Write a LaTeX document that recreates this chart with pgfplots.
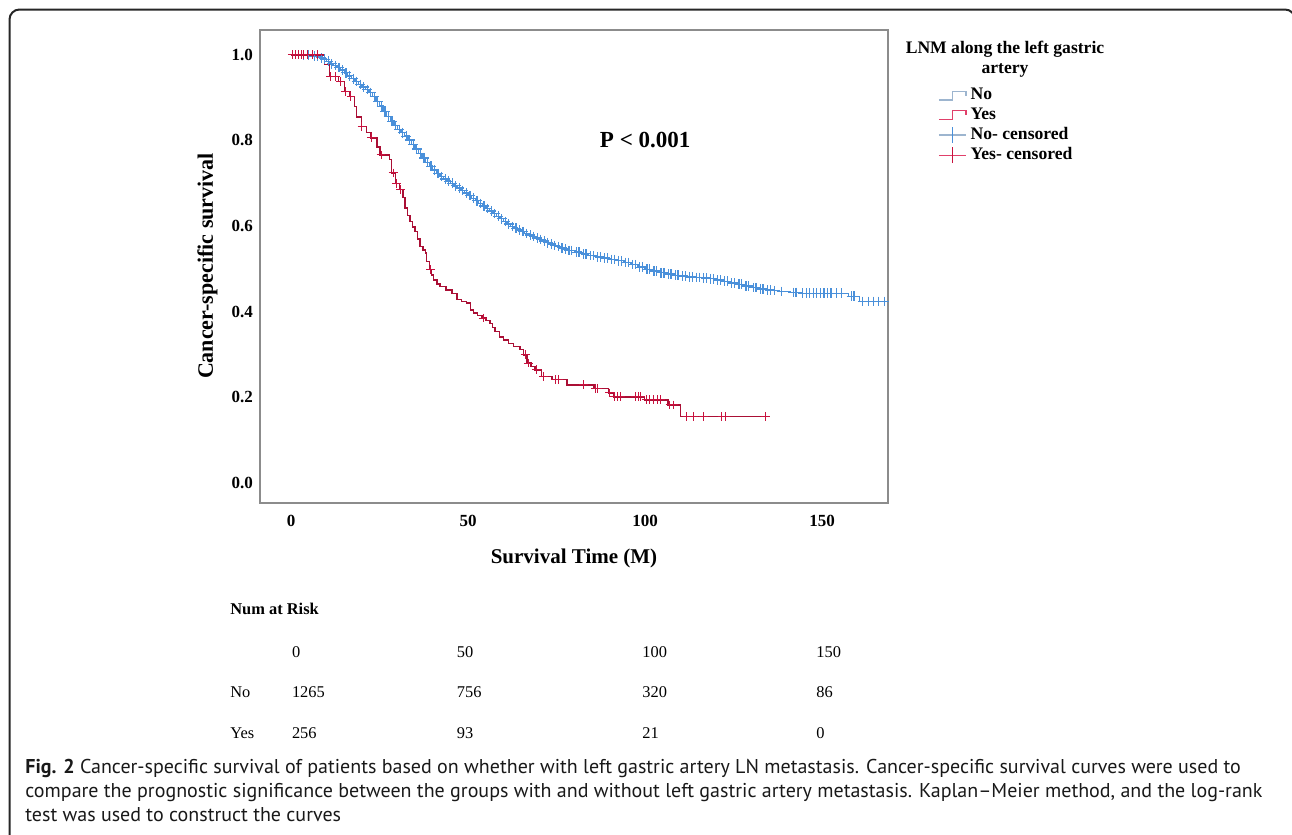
\documentclass[border=0pt]{standalone}
\usepackage{fontspec}
\setmainfont{Liberation Serif}
\newfontfamily\capfont{PT Sans}
\usepackage{graphicx}
\usepackage{pgfplots}
\pgfplotsset{compat=1.18}
\definecolor{kmblue}{HTML}{4A90DA}
\definecolor{kmred}{HTML}{C8123E}
\definecolor{legblue}{HTML}{9DB5CF}
\definecolor{legred}{HTML}{E0406A}
\definecolor{axgray}{HTML}{8C8C8C}

\begin{document}
\begin{tikzpicture}
\useasboundingbox (0,0) rectangle (646pt,-417.5pt);
% outer frame, bottom is cut off
\draw[line width=1pt, black!85, rounded corners=5pt]
  (4.75pt,-425pt) -- (4.75pt,-4.75pt) -- (647.5pt,-4.75pt) -- (647.5pt,-425pt);

\begin{axis}[
  at={(130pt,-251.5pt)}, anchor=south west,
  scale only axis, width=314pt, height=236.5pt,
  xmin=-8.8, xmax=168.6, ymin=-0.047, ymax=1.058,
  xtick={0,50,100,150},
  ytick={0,0.2,0.4,0.6,0.8,1.0},
  yticklabel style={/pgf/number format/.cd, fixed, fixed zerofill, precision=1},
  /pgf/number format/assume math mode=true,
  tick label style={font=\bfseries\fontsize{8.5}{10}\selectfont},
  xticklabel style={yshift=-2.5pt},
  major tick length=0pt,
  axis line style={draw=axgray, line width=0.6pt},
  xlabel={Survival Time (M)},
  xlabel style={font=\bfseries\fontsize{10.5}{12}\selectfont,
    at={(axis description cs:0.5,-0.1163)}, anchor=center},
  ylabel={Cancer-specific survival},
  ylabel style={font=\bfseries\fontsize{11}{12}\selectfont,
    at={(axis description cs:-0.0836,0.501)}, anchor=center},
  legend style={at={(axis description cs:1.0796,0.886)}, anchor=north west,
    draw=none, fill=none, inner sep=0pt, row sep=-1.5pt,
    font=\bfseries\fontsize{8.8}{10}\selectfont},
  legend cell align=left,
]
% No, step curve
\addplot[const plot, kmblue, line width=0.7pt,
  legend image code/.code={\draw[legblue, line width=0.6pt]
    (0pt,-2.2pt) -- (6.8pt,-2.2pt) -- (6.8pt,2.2pt) -- (13.5pt,2.2pt) -- (13.5pt,0pt);}]
coordinates {
(0,1.000)(7,0.996)(8,0.993)(9,0.990)(10,0.985)(11,0.979)(12,0.975)(13,0.970)
(14,0.965)(15,0.958)(16,0.951)(17,0.944)(18,0.938)(19,0.931)(20,0.925)
(21,0.919)(22,0.912)(23,0.902)(24,0.891)(25,0.880)(26,0.868)(27,0.856)
(28,0.845)(29,0.835)(30,0.826)(31,0.818)(32,0.810)(33,0.801)(34,0.791)
(35,0.780)(36,0.770)(37,0.759)(38,0.749)(39,0.740)(40,0.731)(41,0.723)
(42,0.716)(43,0.710)(44,0.705)(45,0.700)(46,0.694)(47,0.689)(48,0.683)
(49,0.677)(50,0.671)(51,0.665)(52,0.659)(53,0.653)(54,0.647)(55,0.641)
(56,0.635)(57,0.629)(58,0.623)(59,0.617)(60,0.611)(61,0.605)(62,0.599)
(63,0.595)(64,0.591)(65,0.587)(66,0.583)(67,0.579)(68,0.576)(69,0.572)
(70,0.569)(71,0.565)(72,0.561)(73,0.558)(74,0.555)(75,0.552)(76,0.549)
(77,0.546)(78,0.543)(80,0.539)(82,0.535)(84,0.531)(86,0.528)(88,0.525)
(90,0.522)(92,0.519)(94,0.515)(96,0.510)(98,0.504)(100,0.499)(102,0.495)
(104,0.491)(106,0.488)(108,0.485)(110,0.483)(112,0.481)(114,0.480)
(116,0.479)(118,0.477)(120,0.474)(122,0.471)(124,0.467)(126,0.464)
(128,0.460)(130,0.456)(132,0.453)(134,0.451)(136,0.449)(138,0.447)
(141,0.445)(144,0.443)(157.5,0.436)(160.5,0.424)(168.6,0.424)
};
\addlegendentry{No}
% Yes, step curve
\addplot[const plot, kmred!85!black, line width=0.7pt,
  legend image code/.code={\draw[legred, line width=0.6pt]
    (0pt,-2.2pt) -- (6.8pt,-2.2pt) -- (6.8pt,2.2pt) -- (13.5pt,2.2pt) -- (13.5pt,0pt);}]
coordinates {
(0,1.000)(9.5,0.977)(10.8,0.949)(13.3,0.937)(15,0.914)(16.6,0.902)
(17.9,0.879)(18.4,0.855)(19.8,0.832)(21.2,0.819)(22.5,0.806)(24.3,0.785)
(25.1,0.766)(27.8,0.755)(28.4,0.724)(29.4,0.700)(30.6,0.685)(31.6,0.666)
(32.2,0.642)(32.9,0.625)(33.6,0.611)(34.3,0.598)(35,0.587)(35.7,0.570)
(36.4,0.552)(37.2,0.544)(37.9,0.537)(38.3,0.517)(39.1,0.498)(39.7,0.486)
(40.2,0.474)(41.2,0.465)(42.1,0.459)(43.7,0.451)(45.4,0.443)(46.8,0.428)
(48.2,0.424)(49.6,0.420)(50.6,0.404)(51.5,0.397)(52.7,0.391)(53.9,0.385)
(55,0.379)(56.2,0.373)(56.9,0.363)(57.6,0.354)(58.8,0.341)(60,0.334)
(61.4,0.326)(62.8,0.318)(64.7,0.311)(65.6,0.299)(66.6,0.280)(67.8,0.272)
(68.9,0.264)(70.8,0.248)(73.7,0.241)(77.9,0.229)(85.5,0.221)(89.6,0.210)
(91,0.201)(99.8,0.194)(106.5,0.182)(109.9,0.155)(134.2,0.155)
};
\addlegendentry{Yes}
% No, censored
\addplot[only marks, mark=+, mark size=2.4pt, kmblue, mark options={line width=0.6pt},
  legend image code/.code={\draw[legblue, line width=0.6pt] (0pt,0pt) -- (13.5pt,0pt);
    \draw[kmblue, line width=0.6pt] (6.75pt,-4pt) -- (6.75pt,4pt);}]
coordinates {
(3.5,1.000)(5,1.000)(6.5,0.997)(7.5,0.996)(8.5,0.993)(9.5,0.990)(10.5,0.985)
(11.5,0.979)(12.5,0.975)(13.5,0.970)(14.5,0.965)(15.5,0.958)(16.5,0.951)
(17.5,0.944)(18.5,0.938)(19.5,0.931)(20.5,0.925)(21.5,0.919)(22.5,0.912)
(23.5,0.902)(24.5,0.891)(25.5,0.880)(26.5,0.868)(27.5,0.856)(28.5,0.845)
(29.5,0.835)(30.5,0.826)(31.5,0.818)(32.5,0.810)(33.5,0.801)(34.5,0.791)
(35.5,0.780)(36.5,0.770)(37.5,0.759)(38.5,0.749)(39.5,0.740)(40.5,0.731)
(41.5,0.723)(42.5,0.716)(43.5,0.710)(44.5,0.705)(45.5,0.700)(46.5,0.694)
(47.5,0.689)(48.5,0.683)(49.5,0.677)(50.5,0.671)(51.5,0.665)(52.5,0.659)
(53.5,0.653)(54.5,0.647)(55.5,0.641)(56.5,0.635)(57.5,0.629)(58.5,0.623)
(59.5,0.617)(60.5,0.611)(61.5,0.605)(62.5,0.599)(63.5,0.595)(64.5,0.591)
(65.5,0.587)(66.5,0.583)(67.5,0.579)(68.5,0.576)(69.5,0.572)(70.5,0.569)
(71.5,0.565)(72.5,0.561)(73.5,0.558)(74.5,0.555)(75.5,0.552)(76.5,0.549)
(77.5,0.546)(78.5,0.543)(79.3,0.543)(80.5,0.539)(81.3,0.539)(82.5,0.535)
(83.3,0.535)(84.5,0.531)(85.3,0.531)(86.5,0.528)(87.3,0.528)(88.5,0.525)
(89.3,0.525)(90.5,0.522)(91.3,0.522)(92.5,0.519)(93.3,0.519)(94.5,0.515)
(95.3,0.515)(96.5,0.510)(97.3,0.510)(98.5,0.504)(99.3,0.504)(100.5,0.499)
(101.3,0.499)(102.5,0.495)(103.3,0.495)(104.5,0.491)(105.3,0.491)
(106.5,0.488)(107.3,0.488)(108.5,0.485)(109.3,0.485)(110.5,0.483)
(111.3,0.483)(112.5,0.481)(113.3,0.481)(114.5,0.480)(115.3,0.480)
(116.5,0.479)(117.3,0.479)(118.5,0.477)(119.3,0.477)(120.5,0.474)
(121.3,0.474)(122.5,0.471)(123.3,0.471)(124.5,0.467)(125.3,0.467)
(126.5,0.464)(127.3,0.464)(128.5,0.460)(129.3,0.460)(130.5,0.456)
(131.3,0.456)(132.5,0.453)(133.3,0.453)(134.5,0.451)(135.3,0.451)
(136.5,0.449)(138.5,0.447)(141.8,0.445)(142.6,0.445)(144.5,0.443)
(145.5,0.443)(146.5,0.443)(147.5,0.443)(148.5,0.443)(149.5,0.443)
(150.5,0.443)(151.5,0.443)(152.5,0.443)(154,0.443)(155.5,0.443)
(158.3,0.436)(159,0.436)(161.5,0.424)(163,0.424)(164.5,0.424)(166,0.424)
(167.5,0.424)
};
\addlegendentry{No- censored}
% Yes, censored
\addplot[only marks, mark=+, mark size=2.2pt, kmred, mark options={line width=0.5pt},
  legend image code/.code={\draw[legred, line width=0.6pt] (0pt,0pt) -- (13.5pt,0pt);
    \draw[kmred, line width=0.6pt] (6.75pt,-4pt) -- (6.75pt,4pt);}]
coordinates {
(0.3,1.000)(1.2,1.000)(2,1.000)(2.8,1.000)(3.6,1.000)(4.5,1.000)(6,1.000)
(7.5,1.000)(11.2,0.949)(12.5,0.949)(13.8,0.937)(15.3,0.914)(16.9,0.902)
(20,0.832)(22.8,0.806)(25.4,0.766)(28.8,0.724)(29.7,0.700)(30.9,0.685)
(39.4,0.498)(54.2,0.385)(66.1,0.299)(67,0.280)(69.3,0.264)(71.2,0.248)
(74.6,0.241)(75.6,0.241)(82.6,0.229)(85.9,0.221)(86.6,0.221)(89.9,0.210)
(91.4,0.201)(92.2,0.201)(93,0.201)(97.2,0.201)(98,0.201)(98.8,0.201)
(100.3,0.194)(101.3,0.194)(102.4,0.194)(103.4,0.194)(104.4,0.194)
(107,0.182)(108,0.182)(111.8,0.155)(113.7,0.155)(116.5,0.155)
(121.7,0.155)(122.6,0.155)(133.9,0.155)
};
\addlegendentry{Yes- censored}
\node[font=\bfseries\fontsize{11.5}{13}\selectfont] at (axis cs:100,0.8) {P < 0.001};
\end{axis}

% legend title
\node[anchor=base, inner sep=0pt, font=\bfseries\fontsize{8.8}{10}\selectfont]
  at (502.5pt,-27pt) {LNM along the left gastric};
\node[anchor=base, inner sep=0pt, font=\bfseries\fontsize{8.8}{10}\selectfont]
  at (502.5pt,-36.5pt) {artery};

% number at risk table
\begin{scope}[every node/.style={anchor=base west, inner sep=0pt,
    font=\fontsize{8.2}{10}\selectfont}]
\node[font=\bfseries\fontsize{8.2}{10}\selectfont] at (115pt,-307pt) {Num at Risk};
\node at (145.8pt,-328.5pt) {0};
\node at (228.25pt,-328.5pt) {50};
\node at (321pt,-328.5pt) {100};
\node at (408pt,-328.5pt) {150};
\node at (115pt,-348.5pt) {No};
\node at (145.8pt,-348.5pt) {1265};
\node at (228.25pt,-348.5pt) {756};
\node at (321pt,-348.5pt) {320};
\node at (408pt,-348.5pt) {86};
\node at (115pt,-369pt) {Yes};
\node at (145.8pt,-369pt) {256};
\node at (228.25pt,-369pt) {93};
\node at (321pt,-369pt) {21};
\node at (408pt,-369pt) {0};
\end{scope}

% caption
\begin{scope}[every node/.style={anchor=base west, inner sep=0pt, text=black!90,
    font=\capfont\fontsize{10}{12}\selectfont}]
\node at (12.5pt,-386.5pt) {\textbf{Fig. 2} Cancer-specific survival of patients based on whether with left gastric artery LN metastasis. Cancer-specific survival curves were used to};
\node at (12.5pt,-398.5pt) {compare the prognostic significance between the groups with and without left gastric artery metastasis. Kaplan–Meier method, and the log-rank};
\node at (12.5pt,-410.85pt) {test was used to construct the curves};
\end{scope}
\end{tikzpicture}
\end{document}
